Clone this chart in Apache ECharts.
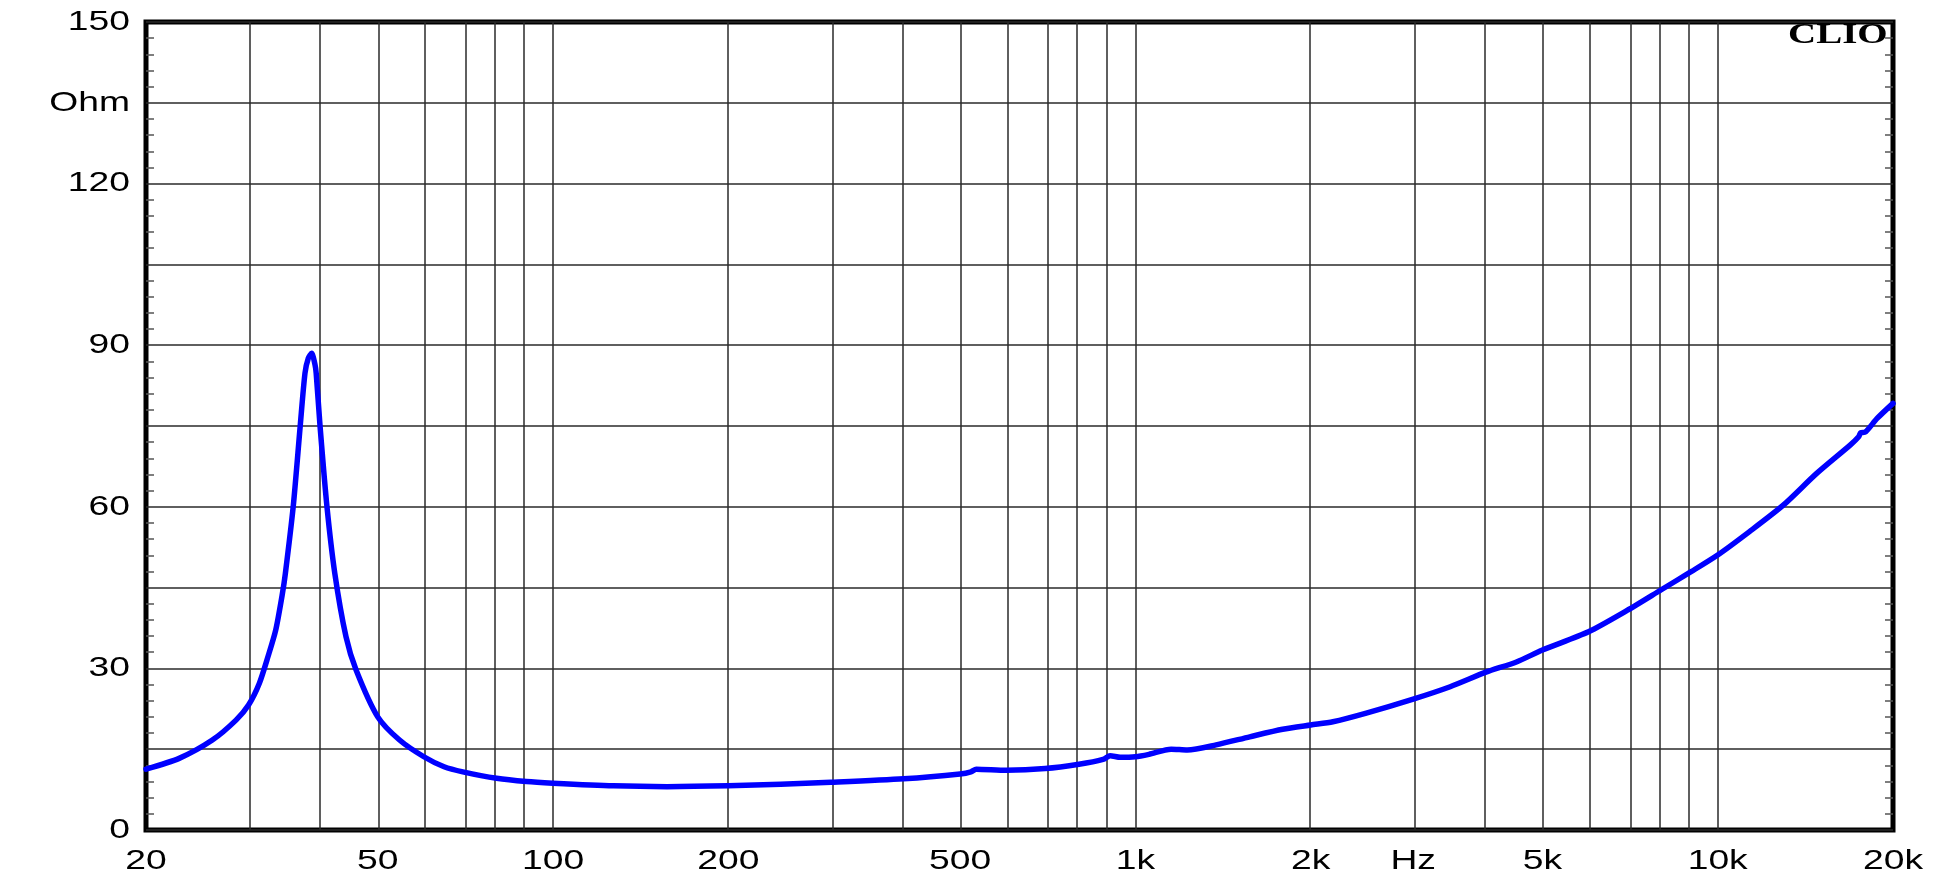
<!DOCTYPE html>
<html>
<head>
<meta charset="utf-8">
<script src="https://cdn.jsdelivr.net/npm/echarts@6/dist/echarts.min.js"></script>
<style>
html,body{margin:0;padding:0;background:#fff;}
#chart{width:1942px;height:880px;}
</style>
</head>
<body>
<div id="chart"></div>
<script>
// Frequency (Hz) and impedance (Ohm)
const freqHz = [20, 22.8, 26.0, 28.55, 30, 31.3, 32.4, 33.4, 34.3, 34.7, 35.8, 36.8, 37.5, 38.0, 38.5, 39.0, 39.2, 39.8, 40.9, 42.2, 44.1, 45.9, 50, 54.5, 60, 65, 70, 80, 90, 100, 127, 157, 200, 246, 300, 400, 500, 522, 533, 600, 700, 800, 880, 905, 942, 1000, 1055, 1152, 1228, 1376, 1572, 1790, 2000, 2184, 2492, 3000, 3472, 4000, 4512, 5000, 6000, 7000, 8000, 9000, 10000, 11340, 12960, 14790, 16900, 17460, 17600, 17940, 18780, 20000];
const impedanceOhm = [11.3, 13.3, 16.7, 20.4, 23.2, 27.2, 32.2, 37.1, 43.9, 47.6, 60.1, 75.0, 84.8, 87.6, 88.5, 86.5, 84.8, 75.0, 60.1, 47.6, 35.9, 29.7, 21.0, 16.7, 13.6, 11.75, 10.8, 9.6, 9.0, 8.7, 8.2, 8.05, 8.2, 8.5, 8.85, 9.5, 10.4, 10.8, 11.3, 11.1, 11.4, 12.2, 13.1, 13.8, 13.5, 13.6, 14.05, 15.0, 14.85, 15.8, 17.3, 18.7, 19.5, 20.1, 21.7, 24.3, 26.6, 29.3, 31.2, 33.4, 36.8, 40.8, 44.6, 47.95, 51.05, 55.4, 60.3, 66.2, 71.5, 73.0, 73.75, 73.9, 76.4, 79.2];

// Axis labels
const xLabelFreqs = [20, 50, 100, 200, 500, 1000, 2000, 3000, 5000, 10000, 20000];
const xLabelTexts = ['20', '50', '100', '200', '500', '1k', '2k', 'Hz', '5k', '10k', '20k'];
const xGridFreqs = [30, 40, 50, 60, 70, 80, 90, 100, 200, 300, 400, 500, 600, 700, 800, 900, 1000, 2000, 3000, 4000, 5000, 6000, 7000, 8000, 9000, 10000];
const yLabelValues = [150, 135, 120, 90, 60, 30, 0];
const yLabelTexts = ['150', 'Ohm', '120', '90', '60', '30', '0'];
const brandText = 'CLIO';

const lg = Math.log10;
const seriesData = freqHz.map((f, i) => [lg(f), impedanceOhm[i]]);

const gridLine = {color: '#2a2a2a', width: 1.5, type: 'solid'};
const yCommon = {
  type: 'value', min: 0, max: 150, interval: 15,
  axisLine: {show: false},
  axisTick: {show: false, inside: true},
  axisLabel: {show: false},
  minorTick: {show: true, splitNumber: 5, length: 8, lineStyle: {color: '#555', width: 1.5}},
  minorSplitLine: {show: false}
};

const chart = echarts.init(document.getElementById('chart'), null, {renderer: 'canvas'});
chart.setOption({
  animation: false,
  backgroundColor: '#fff',
  grid: {left: 146, right: 49, top: 22, bottom: 50, show: true, borderColor: '#000', borderWidth: 5, backgroundColor: 'transparent'},
  xAxis: {
    type: 'value', min: lg(20), max: lg(20000),
    axisLine: {show: false}, axisTick: {show: false}, splitLine: {show: false},
    axisLabel: {show: false}
  },
  yAxis: [
    Object.assign({}, yCommon, {position: 'left', splitLine: {show: true, lineStyle: gridLine}}),
    Object.assign({}, yCommon, {position: 'right', splitLine: {show: false}})
  ],
  series: [
    {
      type: 'line', data: [], silent: true, z: 1,
      markLine: {
        silent: true, symbol: ['none', 'none'], label: {show: false},
        lineStyle: gridLine, animation: false,
        data: xGridFreqs.map(f => ({xAxis: lg(f)}))
      }
    },
    {
      type: 'line', data: seriesData, showSymbol: false, smooth: 0.25, z: 5,
      lineStyle: {color: '#0000ff', width: 5.5, join: 'round', cap: 'round'}, itemStyle: {color: '#0000ff'}
    }
  ]
});

// Axis label texts placed through the chart's own coordinate conversion
const labelFont = '28px "Liberation Sans", Arial, sans-serif';
const stretch = 1.33;
const graphics = [];
const leftPx = chart.convertToPixel({gridIndex: 0}, [lg(20), 0])[0];
const bottomPx = chart.convertToPixel({gridIndex: 0}, [lg(20), 0])[1];
yLabelValues.forEach((v, i) => {
  const py = chart.convertToPixel({gridIndex: 0}, [lg(20), v])[1];
  graphics.push({type: 'text', x: leftPx - 16, y: py, scaleX: stretch, z: 50,
    style: {text: yLabelTexts[i], font: labelFont, fill: '#000', align: 'right', verticalAlign: 'middle'}});
});
xLabelFreqs.forEach((f, i) => {
  const px = chart.convertToPixel({gridIndex: 0}, [lg(f), 0])[0];
  graphics.push({type: 'text', x: px, y: bottomPx + 31, scaleX: stretch, z: 50,
    style: {text: xLabelTexts[i], font: labelFont, fill: '#000', align: 'center', verticalAlign: 'middle'}});
});
graphics.push({type: 'text', x: 1788, y: 20, scaleX: 1.3, z: 100,
  style: {text: brandText, font: 'bold 30px "Liberation Serif", "Times New Roman", serif', fill: '#000', align: 'left', verticalAlign: 'top'}});
chart.setOption({graphic: graphics});
</script>
</body>
</html>
